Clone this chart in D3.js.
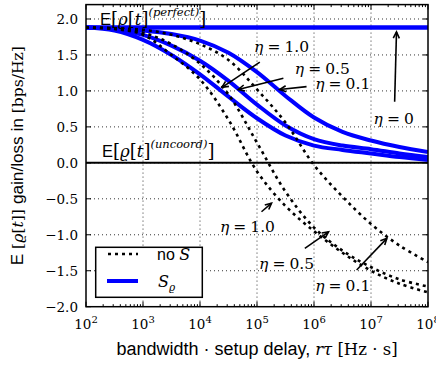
<!DOCTYPE html>
<html><head><meta charset="utf-8">
<script src="https://cdn.jsdelivr.net/npm/d3@7"></script>
<style>body{margin:0;background:#fff}svg{display:block}</style>
</head><body><svg id="c" width="436" height="369"></svg>
<script>
// ---- data ----
const bw = [1e2, 3.16e2, 1e3, 3.16e3, 1e4, 3.16e4, 1e5, 3.16e5, 1e6, 3.16e6, 1e7, 3.16e7, 1e8];
const sRho_eta10 = [1.88, 1.84, 1.71, 1.50, 1.23, 0.92, 0.62, 0.38, 0.24, 0.18, 0.13, 0.08, 0.04];
const sRho_eta05 = [1.88, 1.86, 1.78, 1.63, 1.42, 1.14, 0.81, 0.52, 0.33, 0.24, 0.19, 0.13, 0.08];
const sRho_eta01 = [1.88, 1.87, 1.84, 1.79, 1.70, 1.53, 1.26, 0.93, 0.63, 0.43, 0.31, 0.22, 0.15];
const noS_eta10 = [1.88, 1.86, 1.78, 1.50, 1.16, 0.60, -0.12, -0.60, -0.95, -1.25, -1.50, -1.68, -1.80];
const noS_eta05 = [1.88, 1.87, 1.81, 1.65, 1.38, 0.95, 0.28, -0.40, -0.90, -1.22, -1.45, -1.62, -1.72];
const noS_eta01 = [1.88, 1.87, 1.85, 1.78, 1.65, 1.43, 1.02, 0.56, -0.03, -0.47, -0.85, -1.15, -1.38];
const perfectLevel = 1.88;   // E[rho]^(perfect) = eta=0 curve
const uncoordLevel = 0.0;
const yTicks = [-2.0, -1.5, -1.0, -0.5, 0.0, 0.5, 1.0, 1.5, 2.0];
const yTickLabels = ["\u22122.0","\u22121.5","\u22121.0","\u22120.5","0.0","0.5","1.0","1.5","2.0"];
const xTicks = [1e2, 1e3, 1e4, 1e5, 1e6, 1e7, 1e8];
const xTickExp = ["2","3","4","5","6","7","8"];
// annotation arrows [x0,y0,x1,y1] in data units (tail -> head)
const arrows = [
  [1.12e5, 1.40, 2.43e4, 1.05],
  [2.9e5, 1.175, 4.7e4, 1.02],
  [7.4e5, 1.06, 2.5e5, 1.02],
  [2.6e7, 0.85, 2.8e7, 1.82],
  [1.2e5, -0.68, 1.8e5, -0.56],
  [6.9e5, -1.19, 1.8e6, -0.96],
  [5.6e6, -1.49, 1.9e7, -1.05]
];
const etaLabels = [
  [2.7e5, 1.62, "1.0"], [1.4e6, 1.31, "0.5"], [3.2e6, 1.11, "0.1"], [2.5e7, 0.62, "0"],
  [6.8e4, -0.89, "1.0"], [3.3e5, -1.40, "0.5"], [3.2e6, -1.70, "0.1"]
];

// ---- layout ----
const L = 86, R = 428, T = 4.6, B = 306.7;
const svg = d3.select("#c");
const x = d3.scaleLog().domain([1e2, 1e8]).range([L, R]);
const y = d3.scaleLinear().domain([-2, 2.2]).range([B, T]);
const serif = "'DejaVu Serif', serif";
const sans = "'Liberation Sans', Arial, sans-serif";

// grid
const g = svg.append("g");
g.selectAll(".gx").data(xTicks.slice(1, -1)).enter().append("line")
  .attr("x1", d => x(d)).attr("x2", d => x(d)).attr("y1", T).attr("y2", B)
  .attr("stroke", "#000").attr("stroke-width", 0.8).attr("stroke-dasharray", "1,3");
g.selectAll(".gy").data(yTicks.slice(1)).enter().append("line")
  .attr("x1", L).attr("x2", R).attr("y1", d => y(d)).attr("y2", d => y(d))
  .attr("stroke", "#000").attr("stroke-width", 0.8).attr("stroke-dasharray", "1,3");

svg.append("clipPath").attr("id", "pc").append("rect")
  .attr("x", L).attr("y", T).attr("width", R - L).attr("height", B - T);
const plot = svg.append("g").attr("clip-path", "url(#pc)");

const line = d3.line().x((d, i) => x(bw[i])).y(d => y(d)).curve(d3.curveCatmullRom.alpha(0.5));

// uncoord line
plot.append("line").attr("x1", L).attr("x2", R).attr("y1", y(uncoordLevel)).attr("y2", y(uncoordLevel))
  .attr("stroke", "#000").attr("stroke-width", 2);
// blue curves
[sRho_eta10, sRho_eta05, sRho_eta01].forEach(s => {
  plot.append("path").attr("d", line(s)).attr("fill", "none").attr("stroke", "#0000ff").attr("stroke-width", 4);
});
plot.append("line").attr("x1", L).attr("x2", R).attr("y1", y(perfectLevel)).attr("y2", y(perfectLevel))
  .attr("stroke", "#0000ff").attr("stroke-width", 4.5);
// dotted curves
[noS_eta10, noS_eta05, noS_eta01].forEach(s => {
  plot.append("path").attr("d", line(s)).attr("fill", "none").attr("stroke", "#000")
    .attr("stroke-width", 2.6).attr("stroke-dasharray", "3,4");
});

// frame
svg.append("rect").attr("x", L).attr("y", T).attr("width", R - L).attr("height", B - T)
  .attr("fill", "none").attr("stroke", "#000").attr("stroke-width", 1.5);

// ticks
const tk = svg.append("g").attr("stroke", "#000").attr("stroke-width", 1);
const minor = x.ticks().filter(v => !xTicks.includes(v));
xTicks.forEach(v => {
  tk.append("line").attr("x1", x(v)).attr("x2", x(v)).attr("y1", B).attr("y2", B - 5);
  tk.append("line").attr("x1", x(v)).attr("x2", x(v)).attr("y1", T).attr("y2", T + 5);
});
minor.forEach(v => {
  tk.append("line").attr("x1", x(v)).attr("x2", x(v)).attr("y1", B).attr("y2", B - 2.5);
  tk.append("line").attr("x1", x(v)).attr("x2", x(v)).attr("y1", T).attr("y2", T + 2.5);
});
yTicks.forEach(v => {
  tk.append("line").attr("x1", L).attr("x2", L + 5).attr("y1", y(v)).attr("y2", y(v));
  tk.append("line").attr("x1", R).attr("x2", R - 5).attr("y1", y(v)).attr("y2", y(v));
});

// tick labels
yTicks.forEach((v, i) => {
  svg.append("text").attr("x", 78).attr("y", y(v) + 5).attr("text-anchor", "end")
    .attr("font-family", serif).attr("font-size", 13.5).text(yTickLabels[i]);
});
xTicks.forEach((v, i) => {
  const t = svg.append("text").attr("x", x(v)).attr("y", 329).attr("text-anchor", "middle")
    .attr("font-family", serif).attr("font-size", 13.5);
  t.append("tspan").text("10");
  t.append("tspan").attr("dy", -6).attr("font-size", 10).text(xTickExp[i]);
});

// axis labels
const xl = svg.append("text").attr("x", (L + R) / 2).attr("y", 355).attr("text-anchor", "middle")
  .attr("font-size", 18);
xl.append("tspan").attr("font-family", sans).text("bandwidth \u00b7 setup delay, ");
xl.append("tspan").attr("font-family", serif).attr("font-style", "italic").attr("font-size", 16.5).text("r\u03c4 ");
xl.append("tspan").attr("font-family", serif).attr("font-size", 16.5).text("[Hz \u00b7 s]");

const yl = svg.append("text").attr("transform", `translate(23,${(T + B) / 2}) rotate(-90)`)
  .attr("text-anchor", "middle").attr("font-size", 17.2);
yl.append("tspan").attr("font-family", sans).text("E ");
yl.append("tspan").attr("font-family", serif).attr("font-size", 15.6).text("[");
yl.append("tspan").attr("font-family", serif).attr("font-size", 15.6).attr("font-style", "italic").text("\u03f1");
yl.append("tspan").attr("font-family", serif).attr("font-size", 15.6).text("[");
yl.append("tspan").attr("font-family", serif).attr("font-size", 15.6).attr("font-style", "italic").text("t");
yl.append("tspan").attr("font-family", serif).attr("font-size", 15.6).text("]] ");
yl.append("tspan").attr("font-family", sans).text("gain/loss in ");
yl.append("tspan").attr("font-family", serif).attr("font-size", 15.6).text("[bps/Hz]");

// E[rho[t]^(...)] annotations
function eLabel(xp, yp, sup) {
  const t = svg.append("text").attr("x", xp).attr("y", yp).attr("font-size", 16.5);
  t.append("tspan").attr("font-family", sans).text("E");
  t.append("tspan").attr("font-family", serif).attr("font-size", 18).text("[");
  t.append("tspan").attr("font-family", serif).attr("font-style", "italic").text("\u03f1");
  t.append("tspan").attr("font-family", serif).attr("font-size", 18).text("[");
  t.append("tspan").attr("font-family", serif).attr("font-style", "italic").text("t");
  t.append("tspan").attr("font-family", serif).attr("font-size", 18).text("]");
  t.append("tspan").attr("font-family", serif).attr("font-style", "italic").attr("font-size", 11.5).attr("dy", -9).text("(" + sup + ")");
  t.append("tspan").attr("font-family", serif).attr("font-size", 18).attr("dy", 9).text("]");
}
eLabel(100, 25, "perfect");
eLabel(102, 157, "uncoord");

// arrows
const ar = svg.append("g").attr("stroke", "#000").attr("stroke-width", 1.6).attr("fill", "none");
arrows.forEach(a => {
  const x0 = x(a[0]), y0 = y(a[1]), x1 = x(a[2]), y1 = y(a[3]);
  const ang = Math.atan2(y1 - y0, x1 - x0), h = 7, w = 0.45;
  ar.append("line").attr("x1", x0).attr("y1", y0).attr("x2", x1).attr("y2", y1);
  ar.append("path").attr("d",
    `M${x1 - h * Math.cos(ang - w)},${y1 - h * Math.sin(ang - w)}L${x1},${y1}L${x1 - h * Math.cos(ang + w)},${y1 - h * Math.sin(ang + w)}`);
});
etaLabels.forEach(l => {
  const t = svg.append("text").attr("x", x(l[0])).attr("y", y(l[1]) + 5.5).attr("text-anchor", "middle")
    .attr("font-family", serif).attr("font-size", 15.5);
  t.append("tspan").attr("font-style", "italic").text("\u03b7");
  t.append("tspan").attr("dx", 4).text("=");
  t.append("tspan").attr("dx", 4).text(l[2]);
});

// legend
const lg = svg.append("g");
lg.append("rect").attr("x", 95.7).attr("y", 247.3).attr("width", 106.6).attr("height", 50)
  .attr("fill", "#fff").attr("stroke", "#000").attr("stroke-width", 1.5);
lg.append("line").attr("x1", 108).attr("x2", 138).attr("y1", 254).attr("y2", 254)
  .attr("stroke", "#000").attr("stroke-width", 2.6).attr("stroke-dasharray", "3,4");
lg.append("line").attr("x1", 107).attr("x2", 138).attr("y1", 281).attr("y2", 281)
  .attr("stroke", "#0000ff").attr("stroke-width", 4);
const l1 = lg.append("text").attr("x", 157).attr("y", 259.5).attr("font-size", 16);
l1.append("tspan").attr("font-family", sans).text("no ");
l1.append("tspan").attr("font-family", serif).attr("font-style", "italic").text("S");
const l2 = lg.append("text").attr("x", 158).attr("y", 286.5).attr("font-size", 16).attr("font-family", serif);
l2.append("tspan").attr("font-style", "italic").text("S");
l2.append("tspan").attr("font-style", "italic").attr("font-size", 10.5).attr("dy", 4).text("\u03f1");
</script></body></html>
